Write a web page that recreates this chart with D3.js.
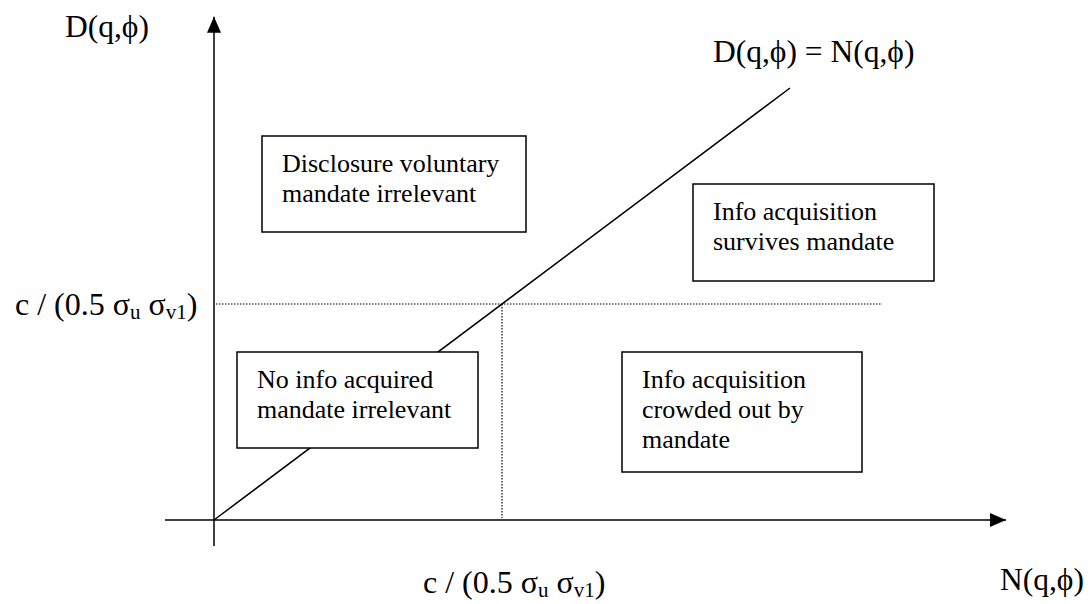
<!DOCTYPE html>
<html>
<head>
<meta charset="utf-8">
<script src="https://cdn.jsdelivr.net/npm/d3@7"></script>
<style>
  body { margin: 0; background: #fff; }
  svg text { font-family: "Liberation Serif", "Times New Roman", serif; fill: #000; }
</style>
</head>
<body>
<div id="chart"></div>
<script>
// diagram values (data units: threshold c/(0.5 su sv1) = 1)
const threshold = 1;
const diagonalPts = [[0, 0], [2, 2]];
const xExtent = [-0.17, 2.75];
const yExtent = [-0.12, 2.33];
const hDottedEnd = 2.32;

const regionLabels = [
  ["Disclosure voluntary", "mandate irrelevant"],
  ["Info acquisition", "survives mandate"],
  ["No info acquired", "mandate irrelevant"],
  ["Info acquisition", "crowded out by", "mandate"]
];

// box layout in pixels [x0, y0, x1, y1]
const boxLayout = [
  [262, 136, 526, 232],
  [693, 184, 934, 281],
  [237, 352, 478, 448],
  [622, 352, 862, 472]
];

const width = 1091, height = 604;

const svg = d3.select("#chart").append("svg")
  .attr("width", width).attr("height", height);

const x = d3.scaleLinear().domain([0, 1]).range([214, 502]);
const y = d3.scaleLinear().domain([0, 1]).range([520, 304]);

const defs = svg.append("defs");
defs.append("marker")
  .attr("id", "arrow")
  .attr("viewBox", "0 0 16 14")
  .attr("refX", 16).attr("refY", 7)
  .attr("markerWidth", 16).attr("markerHeight", 14)
  .attr("markerUnits", "userSpaceOnUse")
  .attr("orient", "auto")
  .append("path").attr("d", "M0,0 L16,7 L0,14 Z").attr("fill", "#000");

// axes
svg.append("line")
  .attr("x1", x(xExtent[0])).attr("y1", y(0))
  .attr("x2", x(xExtent[1])).attr("y2", y(0))
  .attr("stroke", "#000").attr("stroke-width", 1.5)
  .attr("marker-end", "url(#arrow)");

svg.append("line")
  .attr("x1", x(0)).attr("y1", y(yExtent[0]))
  .attr("x2", x(0)).attr("y2", y(yExtent[1]))
  .attr("stroke", "#000").attr("stroke-width", 1.5)
  .attr("marker-end", "url(#arrow)");

// dotted thresholds
svg.append("line")
  .attr("x1", x(0) + 2).attr("y1", y(threshold))
  .attr("x2", x(hDottedEnd)).attr("y2", y(threshold))
  .attr("stroke", "#000").attr("stroke-width", 1.2)
  .attr("stroke-dasharray", "1.5,1.5");

svg.append("line")
  .attr("x1", x(threshold)).attr("y1", y(threshold))
  .attr("x2", x(threshold)).attr("y2", y(0) - 2)
  .attr("stroke", "#000").attr("stroke-width", 1.2)
  .attr("stroke-dasharray", "1.5,1.5");

// 45 degree line
svg.append("path")
  .datum(diagonalPts)
  .attr("d", d3.line().x(d => x(d[0])).y(d => y(d[1])))
  .attr("fill", "none").attr("stroke", "#000").attr("stroke-width", 1.5);

// region boxes
const boxes = svg.selectAll(".region").data(regionLabels).enter()
  .append("g").attr("class", "region");

boxes.append("rect")
  .attr("x", (d, i) => boxLayout[i][0])
  .attr("y", (d, i) => boxLayout[i][1])
  .attr("width", (d, i) => boxLayout[i][2] - boxLayout[i][0])
  .attr("height", (d, i) => boxLayout[i][3] - boxLayout[i][1])
  .attr("fill", "#fff").attr("stroke", "#000").attr("stroke-width", 1.5);

boxes.each(function (lines, i) {
  const b = boxLayout[i];
  d3.select(this).selectAll("text.line").data(lines).enter()
    .append("text")
    .attr("class", "line")
    .attr("x", b[0] + 20)
    .attr("y", (d, j) => b[1] + 36 + j * 30)
    .style("font-family", "'Liberation Serif', serif")
    .style("font-size", "26px")
    .text(d => d);
});

// axis labels
function label(px, py, s) {
  svg.append("text").attr("x", px).attr("y", py)
    .style("font-family", "'Liberation Serif', serif")
    .style("font-size", "31.5px").text(s);
}
label(65, 37, "D(q,\u03D5)");
label(1000, 590, "N(q,\u03D5)");
label(713, 62, "D(q,\u03D5) = N(q,\u03D5)");

function thresholdLabel(px, py) {
  const t = svg.append("text").attr("x", px).attr("y", py)
    .style("font-family", "'Liberation Serif', serif")
    .style("font-size", "32px");
  t.append("tspan").text("c / (0.5 \u03C3");
  t.append("tspan").style("font-size", "21px").attr("dy", 4).text("u");
  t.append("tspan").attr("dy", -4).text(" \u03C3");
  t.append("tspan").style("font-size", "21px").attr("dy", 4).text("v1");
  t.append("tspan").attr("dy", -4).text(")");
}
thresholdLabel(15, 315);
thresholdLabel(423, 593);
</script>
</body>
</html>
